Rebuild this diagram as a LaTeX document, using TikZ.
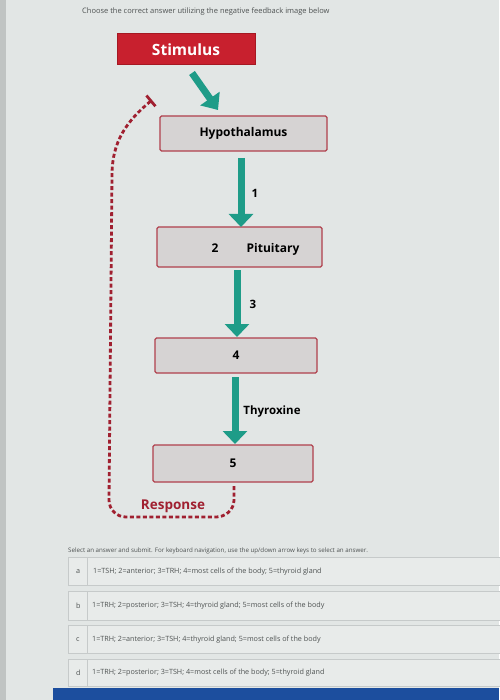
\documentclass[tikz,border=0pt]{standalone}
\usepackage{fontspec}
\setmainfont{Open Sans}
\usetikzlibrary{arrows.meta}
\definecolor{bg}{HTML}{E2E6E5}
\definecolor{stimred}{HTML}{C8202E}
\definecolor{stimedge}{HTML}{A51822}
\definecolor{boxfill}{HTML}{D6D3D3}
\definecolor{boxedge}{HTML}{B0404C}
\definecolor{tealc}{HTML}{1E9C88}
\definecolor{fbred}{HTML}{A02030}
\definecolor{greytext}{HTML}{4E5252}
\definecolor{optedge}{HTML}{C6CACA}
\definecolor{optfill}{HTML}{E8EBEA}
\definecolor{barblue}{HTML}{1C4E9E}
\tikzset{
  organbox/.style={draw=boxedge, fill=boxfill, line width=1.3pt, rounded corners=1.5pt, inner sep=0pt, font=\bfseries\fontsize{12}{14}\selectfont},
  stimbox/.style={draw=stimedge, fill=stimred, line width=1pt, inner sep=0pt, text=white, font=\bfseries\fontsize{15.5}{17}\selectfont},
  tealarr/.style={draw=tealc, line width=7pt, -{Triangle[width=24pt,length=13pt]}},
  fbline/.style={draw=fbred, line width=2.8pt, dash pattern=on 4pt off 2.5pt, -{Bar[width=14pt,line width=2.8pt]}},
  lbl/.style={font=\bfseries\fontsize{11.5}{13}\selectfont, inner sep=0pt},
  tiny/.style={font=\fontsize{6.5}{8}\selectfont, text=greytext, inner sep=0pt, anchor=west},
  opttext/.style={font=\fontsize{7.2}{8}\selectfont, text=greytext, inner sep=0pt, anchor=west},
  optbox/.style={draw=optedge, fill=optfill, line width=0.8pt},
}
\begin{document}
\begin{tikzpicture}[x=1pt,y=-1pt]
\useasboundingbox (0,0) rectangle (499,700);
\fill[bg] (0,0) rectangle (499,700);
\fill[bg!85!black] (0,0) rectangle (6,700);

% title
\node[tiny, font=\fontsize{7.5}{8}\selectfont] (title) at (82,12) {Choose the correct answer utilizing the negative feedback image below};

% boxes
\node[stimbox, minimum width=138pt, minimum height=31pt] (stim) at (186,49.5) {Stimulus};
\node[organbox, minimum width=167pt, minimum height=35pt] (hyp) at (243.5,133.5) {Hypothalamus};
\node[organbox, minimum width=165pt, minimum height=40pt] (pit) at (239.5,247) {};
\node[lbl, font=\bfseries\fontsize{12}{14}\selectfont] (two) at (215,248) {2};
\node[lbl, font=\bfseries\fontsize{12}{14}\selectfont] (pitt) at (273,249) {Pituitary};
\node[organbox, minimum width=162pt, minimum height=35pt] (four) at (236,355.5) {4};
\node[organbox, minimum width=160pt, minimum height=37pt] (five) at (233,463.5) {5};

% teal arrows
\coordinate (s1) at (192,73);
\coordinate (s2) at (218,110);
\draw[tealarr, -{Triangle[width=23pt,length=14pt]}] (s1) -- (s2);
\coordinate (a1) at (241,158);
\coordinate (b1) at (241,227);
\draw[tealarr] (a1) -- (b1);
\node[lbl] (one) at (255,193) {1};
\coordinate (a3) at (237,270);
\coordinate (b3) at (237,337);
\draw[tealarr] (a3) -- (b3);
\node[lbl] (three) at (253,304) {3};
\coordinate (a5) at (235,377);
\coordinate (b5) at (235,444);
\draw[tealarr] (a5) -- (b5);
\node[lbl] (thy) at (272,412) {Thyroxine};

% negative feedback loop
\coordinate (f1) at (234,486);
\coordinate (inh) at (152,100);
\draw[fbline] (f1) -- (234,500) to[out=-90,in=0] (216,517) -- (126,517)
  to[out=180,in=-90] (109,500) -- (112,175) to[out=90,in=220] (inh);
\node[lbl, text=fbred, font=\bfseries\fontsize{13.5}{15}\selectfont] (resp) at (173,506) {Response};

% question text
\node[tiny, font=\fontsize{6.2}{7}\selectfont] (sel) at (68,551) {Select an answer and submit. For keyboard navigation, use the up/down arrow keys to select an answer.};

% options
\draw[optbox] (68,557) rectangle (505,585);
\draw[optbox] (68,591) rectangle (505,620);
\draw[optbox] (68,625) rectangle (505,653);
\draw[optbox] (68,659) rectangle (505,686);
\draw[optedge, line width=0.8pt] (87,557) -- (87,585) (87,591) -- (87,620) (87,625) -- (87,653) (87,659) -- (87,686);
\node[opttext] (la) at (76,572) {a};
\node[opttext] (oa) at (93,572) {1=TSH; 2=anterior; 3=TRH; 4=most cells of the body; 5=thyroid gland};
\node[opttext] (lb) at (76,606) {b};
\node[opttext] (ob) at (92,606) {1=TRH; 2=posterior; 3=TSH; 4=thyroid gland; 5=most cells of the body};
\node[opttext] (lc) at (76,640) {c};
\node[opttext] (oc) at (92,640) {1=TRH; 2=anterior; 3=TSH; 4=thyroid gland; 5=most cells of the body};
\node[opttext] (ld) at (76,673) {d};
\node[opttext] (od) at (92,673) {1=TRH; 2=posterior; 3=TSH; 4=most cells of the body; 5=thyroid gland};

% bottom blue bar
\fill[barblue] (53,688) rectangle (499,700);
\end{tikzpicture}
\end{document}
